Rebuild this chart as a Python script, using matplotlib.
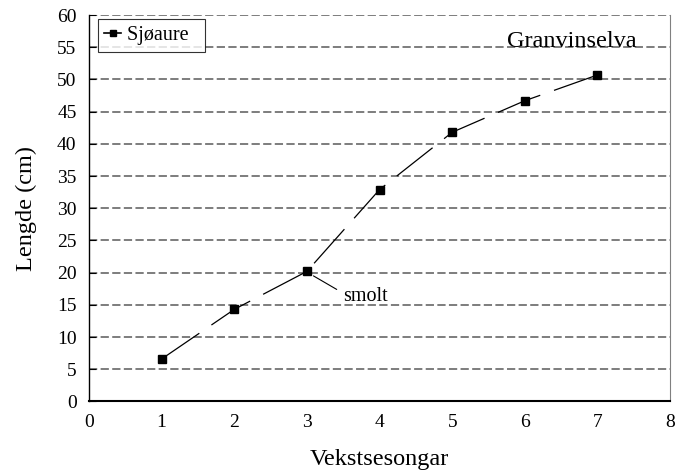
import matplotlib
matplotlib.use("Agg")
import matplotlib.pyplot as plt

# growth of sea trout, Granvinselva
seasons = [1, 2, 3, 4, 5, 6, 7]
length_cm = [6.6, 14.3, 20.2, 32.9, 41.8, 46.7, 50.7]
x_ticks = [0, 1, 2, 3, 4, 5, 6, 7, 8]
y_ticks = list(range(0, 61, 5))

plt.rcParams['font.family'] = ['Liberation Serif', 'DejaVu Serif']

fig = plt.figure(figsize=(6.81, 4.71), dpi=100)
ax = fig.add_axes([0.1307, 0.1476, 0.8533, 0.8204])

# grid lines
for y in y_ticks[1:]:
    ax.axhline(y, color='#5a5a5a', lw=1.1, dashes=(5.4, 2.2), zorder=1)

ax.plot(seasons, length_cm, color='black', lw=0.9, dashes=(36.5, 11.7),
        marker='s', markersize=6.3, markerfacecolor='black',
        markeredgecolor='black', zorder=3)

ax.set_xlim(0, 8)
ax.set_ylim(0, 60)
ax.set_xticks(x_ticks)
ax.set_yticks(y_ticks)
ax.tick_params(axis='x', length=0, pad=9, labelsize=14)
ax.tick_params(axis='y', direction='in', length=5, width=0.8, pad=9, labelsize=14)

ax.spines['top'].set_visible(False)
ax.spines['right'].set_color('#808080')
ax.spines['left'].set_linewidth(1.0)
ax.spines['bottom'].set_linewidth(1.5)

ax.set_xlabel('Vekstsesongar', fontsize=17.5, labelpad=13)
ax.set_ylabel('Lengde (cm)', fontsize=17.5, labelpad=14)

ax.text(6.65, 55.1, 'Granvinselva', fontsize=17.5, ha='center', va='baseline')

# smolt marker
ax.annotate('', xy=(3.09, 19.5), xytext=(3.41, 17.4),
            arrowprops=dict(arrowstyle='-', color='black', lw=0.8,
                            shrinkA=0, shrinkB=0))
ax.text(3.5, 15.65, 'smolt', fontsize=14.5, ha='left', va='baseline')

leg_line = plt.Line2D([], [], color='black', lw=1.2, marker='s', markersize=5)
leg = ax.legend([leg_line], ['Sjøaure  '], loc='upper left',
                prop={'family': 'Liberation Serif', 'size': 14.5},
                bbox_to_anchor=(0.0150, 0.989), borderaxespad=0,
                frameon=True, fancybox=False, handlelength=0.85,
                handletextpad=0.25, borderpad=0.33)
leg.get_frame().set_edgecolor('black')
leg.get_frame().set_linewidth(0.8)

fig.savefig('out.png', dpi=100)
